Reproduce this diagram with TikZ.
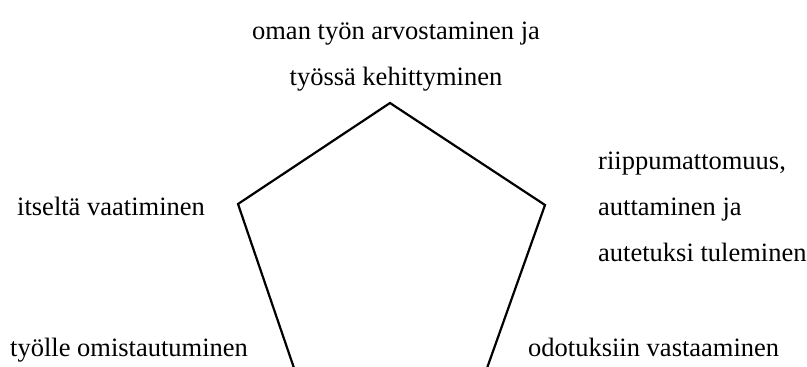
\documentclass[tikz,border=0pt]{standalone}
\usepackage{fontspec}
\setmainfont{Liberation Serif}
\usetikzlibrary{positioning}
\tikzset{
  lbl/.style={inner sep=0pt, font=\fontsize{26.5}{46}\selectfont},
  edge/.style={draw=black, line width=2.2pt, line join=miter}
}

\begin{document}
\begin{tikzpicture}[x=1pt,y=1pt]
    \useasboundingbox (0,0) rectangle (807,367);
    \clip (0,0) rectangle (807,367);

    % Corners of the pentagon; the lower two sit below the page edge.
    \coordinate (ptop) at (390,264);
    \coordinate (pright) at (545,162);
    \coordinate (pbotr) at (486,-4);
    \coordinate (pbotl) at (295,-4);
    \coordinate (pleft) at (238,163);
    \draw[edge] (ptop) -- (pright) -- (pbotr) -- (pbotl) -- (pleft) -- cycle;

    % Labels round the corners.
    \node[lbl, align=center, anchor=north] (growth) at (396,345)
      {oman työn arvostaminen ja\\työssä kehittyminen};
    \node[lbl, align=left, anchor=north west] (indep) at (598,215)
      {riippumattomuus,\\auttaminen ja\\autetuksi tuleminen};
    \node[lbl, anchor=base west] (demand) at (17,151) {itseltä vaatiminen};
    \node[lbl, anchor=base west] (devote) at (10,10) {työlle omistautuminen};
    \node[lbl, anchor=base west] (expect) at (528,10) {odotuksiin vastaaminen};
\end{tikzpicture}
\end{document}
